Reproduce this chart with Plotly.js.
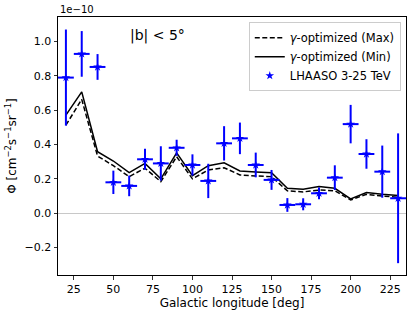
<!DOCTYPE html>
<html>
<head>
<meta charset="utf-8">
<script src="https://cdn.plot.ly/plotly-3.0.1.min.js"></script>
<style>html,body{margin:0;padding:0;background:#fff;}#chart{width:413px;height:316px;}</style>
</head>
<body>
<div id="chart"></div>
<script>
// Galactic longitude [deg]
const longitude = [20, 30, 40, 50, 60, 70, 80, 90, 100, 110, 120, 130, 140, 150, 160, 170, 180, 190, 200, 210, 220, 230];
// Flux in units of 1e-10 cm^-2 s^-1 sr^-1
const modelMax = [0.513, 0.663, 0.333, 0.277, 0.213, 0.262, 0.184, 0.329, 0.200, 0.252, 0.265, 0.223, 0.217, 0.213, 0.130, 0.124, 0.135, 0.131, 0.077, 0.110, 0.100, 0.093];
const modelMin = [0.571, 0.707, 0.358, 0.304, 0.236, 0.290, 0.200, 0.352, 0.219, 0.277, 0.294, 0.246, 0.240, 0.236, 0.145, 0.140, 0.155, 0.145, 0.083, 0.120, 0.110, 0.103];
const lhaaso = [0.790, 0.928, 0.852, 0.180, 0.159, 0.314, 0.290, 0.381, 0.281, 0.188, 0.407, 0.436, 0.281, 0.194, 0.048, 0.052, 0.116, 0.207, 0.519, 0.345, 0.242, 0.087];
const lhaasoErr = [0.280, 0.133, 0.075, 0.068, 0.060, 0.061, 0.100, 0.047, 0.062, 0.100, 0.100, 0.092, 0.072, 0.058, 0.040, 0.035, 0.034, 0.072, 0.112, 0.086, 0.152, 0.378];
const binHalfWidth = [5, 5, 5, 5, 5, 5, 5, 5, 5, 5, 5, 5, 5, 5, 5, 5, 5, 5, 5, 5, 5, 5];
const yTicks = [-0.2, 0.0, 0.2, 0.4, 0.6, 0.8, 1.0];
const xTicks = [25, 50, 75, 100, 125, 150, 175, 200, 225];

const font = {family: 'DejaVu Sans, sans-serif', size: 11, color: '#000'};
const titleFont = {family: 'DejaVu Sans, sans-serif', size: 12, color: '#000'};

const traces = [
  {x: longitude, y: modelMax, type: 'scatter', mode: 'lines', name: '<i>γ</i>-optimized (Max)',
   line: {color: '#000', width: 1.5, dash: '5px,2.5px'}},
  {x: longitude, y: modelMin, type: 'scatter', mode: 'lines', name: '<i>γ</i>-optimized (Min)',
   line: {color: '#000', width: 1.5}},
  {x: longitude, y: lhaaso, type: 'scatter', mode: 'markers', name: 'LHAASO 3-25 TeV',
   marker: {symbol: 'star', size: 6.5, color: '#0000ff', line: {width: 0}},
   error_y: {type: 'data', array: lhaasoErr, visible: true, color: '#0000ff', thickness: 2, width: 0},
   error_x: {type: 'data', array: binHalfWidth, visible: true, color: '#0000ff', thickness: 2, width: 0}}
];

const layout = {
  width: 413, height: 316,
  margin: {l: 58, r: 7, t: 17, b: 41},
  paper_bgcolor: '#fff', plot_bgcolor: '#fff',
  font: font,
  showlegend: true,
  legend: {x: 0.985, y: 0.98, xanchor: 'right', yanchor: 'top', bgcolor: 'rgba(255,255,255,0.8)',
           bordercolor: '#cccccc', borderwidth: 1, font: {family: 'DejaVu Sans, sans-serif', size: 11.5},
           tracegroupgap: 0},
  xaxis: {range: [15, 235], tickvals: xTicks, ticks: 'outside', ticklen: 3.5, tickwidth: 0.8, tickcolor: '#000',
          showline: true, linecolor: '#000', linewidth: 1, mirror: true, showgrid: false, zeroline: false,
          title: {text: 'Galactic longitude [deg]', font: titleFont, standoff: 3}},
  yaxis: {range: [-0.36, 1.143], tickvals: yTicks, tickformat: '.1f', ticks: 'outside', ticklen: 3.5, tickwidth: 0.8, tickcolor: '#000',
          showline: true, linecolor: '#000', linewidth: 1, mirror: true, showgrid: false,
          zeroline: true, zerolinecolor: '#c8c8c8', zerolinewidth: 1,
          title: {text: 'Φ [cm<sup>−2</sup>s<sup>−1</sup>sr<sup>−1</sup>]', font: titleFont, standoff: 5}},
  annotations: [
    {xref: 'paper', yref: 'paper', x: 0, y: 1, xanchor: 'left', yanchor: 'bottom', yshift: 0,
     text: '1e−10', showarrow: false, font: {family: 'DejaVu Sans, sans-serif', size: 10}},
    {xref: 'x', yref: 'paper', x: 78, y: 0.93, xanchor: 'center', yanchor: 'middle',
     text: '|b| < 5°', showarrow: false, font: {family: 'DejaVu Sans, sans-serif', size: 14}}
  ]
};

Plotly.newPlot('chart', traces, layout, {displayModeBar: false, staticPlot: true});
</script>
</body>
</html>
